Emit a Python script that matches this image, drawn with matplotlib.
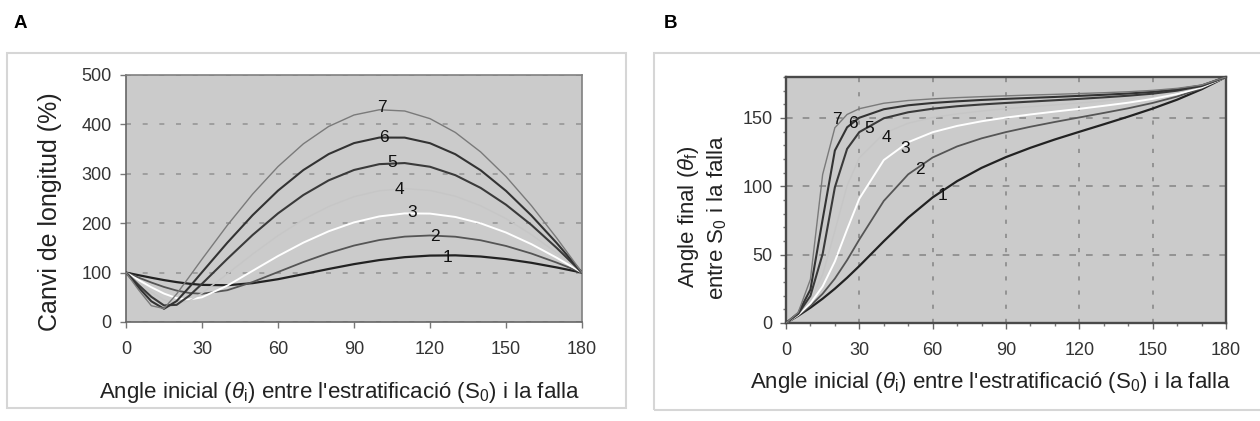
import matplotlib
matplotlib.use("Agg")
import matplotlib.pyplot as plt
from matplotlib.patches import Rectangle
from matplotlib.ticker import MultipleLocator

plt.rcParams['font.family'] = ['Liberation Sans', 'DejaVu Sans']
plt.rcParams['mathtext.fontset'] = 'custom'
plt.rcParams['mathtext.rm'] = 'Liberation Sans'
plt.rcParams['mathtext.it'] = 'Liberation Sans:italic'

# initial angle (degrees) shared by all curves
theta = [0, 5, 10, 15, 20, 25, 30, 40, 50, 60, 70, 80, 90,
         100, 110, 120, 130, 140, 150, 160, 170, 180]

# A: change of length (%) for curves 1..7
len1 = [100, 94.7, 89.6, 84.8, 80.7, 77.4, 75.1, 74.4, 78.6, 86.6, 96.8, 107.3, 117.1,
        125.3, 131.2, 134.4, 134.9, 132.5, 127.3, 119.8, 110.4, 100]
len2 = [100, 89.8, 79.9, 70.9, 63.6, 58.7, 57.1, 64.3, 80.9, 101.1, 121.3, 139.5, 154.7,
        165.9, 172.8, 175.1, 172.6, 165.4, 153.9, 138.6, 120.2, 100]
len3 = [100, 84.8, 70.3, 57.5, 48.3, 45.4, 50.0, 73.6, 103.6, 133.5, 160.6, 183.6, 201.6,
        213.7, 219.8, 219.4, 212.6, 199.7, 181.1, 157.6, 130.0, 100]
len4 = [100, 79.8, 60.6, 44.6, 37.1, 43.0, 58.3, 97.4, 137.5, 174.8, 207.3, 233.8, 253.6,
        265.7, 270.0, 266.3, 254.6, 235.3, 209.2, 177.0, 140.0, 100]
len5 = [100, 74.8, 51.0, 33.5, 34.7, 53.2, 77.3, 127.8, 176.2, 219.8, 257.0, 286.7, 307.7,
        319.5, 321.7, 314.2, 297.2, 271.4, 237.4, 196.5, 150.0, 100]
len6 = [100, 69.8, 41.9, 26.7, 42.4, 70.5, 100.7, 160.5, 216.3, 265.9, 307.5, 339.9, 362.1,
        373.3, 373.2, 361.9, 339.6, 307.1, 265.4, 215.7, 159.9, 100]
len7 = [100, 64.8, 32.9, 27.3, 56.7, 91.7, 127.1, 195.8, 259.0, 314.6, 360.6, 395.8, 419.0,
        429.6, 427.1, 411.6, 383.7, 344.2, 294.4, 235.7, 170.1, 100]

# B: final angle (degrees) for curves 1..7
ang1 = [0, 5.3, 11.2, 17.8, 25.1, 33.1, 41.7, 59.8, 77.1, 91.9, 103.8, 113.5, 121.4,
        128.2, 134.3, 139.9, 145.4, 151.0, 156.9, 163.4, 171.0, 180]
ang2 = [0, 5.6, 12.6, 21.4, 32.5, 46.0, 61.1, 89.3, 108.8, 121.1, 129.2, 135.1, 139.7,
        143.6, 147.1, 150.4, 153.7, 157.1, 161.0, 165.7, 171.7, 180]
ang3 = [0, 5.9, 14.3, 26.8, 45.1, 68.5, 91.0, 119.2, 132.3, 139.6, 144.2, 147.6, 150.3,
        152.6, 154.7, 156.7, 158.9, 161.2, 164.0, 167.5, 172.3, 180]
ang4 = [0, 6.3, 16.7, 35.5, 67.4, 100.5, 120.9, 138.7, 146.2, 150.3, 153.0, 155.1, 156.8,
        158.3, 159.6, 161.0, 162.5, 164.1, 166.2, 168.9, 172.9, 180]
ang5 = [0, 6.7, 19.9, 50.6, 99.3, 127.4, 139.7, 149.8, 154.2, 156.8, 158.6, 159.9, 161.0,
        162.0, 163.0, 164.0, 165.1, 166.3, 167.8, 170.0, 173.4, 180]
ang6 = [0, 7.2, 24.5, 75.9, 126.2, 143.2, 150.2, 156.4, 159.3, 161.0, 162.2, 163.2, 164.0,
        164.7, 165.4, 166.2, 167.0, 167.9, 169.1, 170.9, 173.8, 180]
ang7 = [0, 7.7, 32.0, 108.7, 142.9, 152.6, 156.8, 160.8, 162.8, 164.0, 164.9, 165.6, 166.2,
        166.8, 167.3, 167.9, 168.5, 169.2, 170.2, 171.7, 174.1, 180]

curve_names = ['1', '2', '3', '4', '5', '6', '7']
colors = ['#222222', '#555555', '#ffffff', '#c6c6c6', '#3a3a3a', '#333333', '#7a7a7a']
widths = [1.6, 1.3, 1.4, 1.0, 1.5, 1.5, 1.0]

# label positions (theta, value)
lab_a = [(127, 130), (122, 174), (113, 221), (108, 268), (105, 323), (102, 373), (101, 434)]
lab_b = [(64, 93), (55, 112), (48.7, 128), (41, 136), (34, 142), (27.5, 146), (21, 149)]

bg = '#cbcbcb'

fig = plt.figure(figsize=(12.6, 4.21), dpi=100)

fig.patches.append(Rectangle((7 / 1260, 1 - 408 / 421), 619 / 1260, 355 / 421,
                             transform=fig.transFigure, fill=False,
                             edgecolor='#d6d6d6', lw=1.5))
fig.patches.append(Rectangle((654 / 1260, 1 - 410 / 421), 620 / 1260, 357 / 421,
                             transform=fig.transFigure, fill=False,
                             edgecolor='#d6d6d6', lw=1.5))
fig.text(14 / 1260, 1 - 23 / 421, 'A', fontsize=13.5, fontweight='bold', va='center')
fig.text(664 / 1260, 1 - 23 / 421, 'B', fontsize=13.5, fontweight='bold', va='center')

xlab = "Angle inicial ($\\theta_\\mathrm{i}$) entre l'estratificació (S$_0$) i la falla"

# ---- panel A
axA = fig.add_axes([0.1, 0.2352, 0.3619, 0.5867])
axA.set_facecolor(bg)
series_a = [len1, len2, len3, len4, len5, len6, len7]
for vals, c, w in zip(series_a, colors, widths):
    axA.plot(theta, vals, color=c, lw=w, zorder=3)
for name, (tx, ty) in zip(curve_names, lab_a):
    axA.text(tx, ty, name, fontsize=12.5, ha='center', va='center', color='#111111', zorder=4)
axA.set_xlim(0, 180)
axA.set_ylim(0, 500)
axA.xaxis.set_major_locator(MultipleLocator(30))
axA.yaxis.set_major_locator(MultipleLocator(100))
axA.grid(axis='y', color='#979797', lw=1.2, linestyle=(0, (3, 7)))
axA.set_axisbelow(True)
axA.tick_params(direction='out', length=4.5, width=1, color='#777777', labelsize=13,
                labelcolor='#333333')
axA.tick_params(axis='x', pad=9)
axA.tick_params(axis='y', pad=6)
for s in axA.spines.values():
    s.set_color('#808080')
    s.set_linewidth(1.2)
axA.spines['left'].set_color('#666666')
axA.spines['bottom'].set_color('#666666')
axA.set_ylabel('Canvi de longitud (%)', fontsize=18, color='#222222')
axA.yaxis.set_label_coords(-0.14, 0.445)
axA.set_xlabel(xlab, fontsize=16, color='#222222')
axA.xaxis.set_label_coords(0.467, -0.235)

# ---- panel B
axB = fig.add_axes([0.6238, 0.2328, 0.3492, 0.5843])
axB.set_facecolor(bg)
series_b = [ang1, ang2, ang3, ang4, ang5, ang6, ang7]
for vals, c, w in zip(series_b, colors, widths):
    axB.plot(theta, vals, color=c, lw=w, zorder=3)
for name, (tx, ty) in zip(curve_names, lab_b):
    axB.text(tx, ty, name, fontsize=12.5, ha='center', va='center', color='#111111', zorder=4)
axB.set_xlim(0, 180)
axB.set_ylim(0, 180)
axB.xaxis.set_major_locator(MultipleLocator(30))
axB.xaxis.set_minor_locator(MultipleLocator(10))
axB.yaxis.set_major_locator(MultipleLocator(50))
axB.yaxis.set_minor_locator(MultipleLocator(10))
axB.grid(axis='y', which='major', color='#8a8a8a', lw=1.2, linestyle=(0, (4, 6)))
axB.grid(axis='x', which='major', color='#8a8a8a', lw=1.2, linestyle=(0, (2.5, 6)))
axB.set_axisbelow(True)
axB.tick_params(which='major', direction='out', length=4.5, width=1, color='#666666',
                labelsize=13, labelcolor='#333333')
axB.tick_params(which='minor', direction='out', length=2.5, width=1, color='#777777')
axB.tick_params(axis='x', which='major', pad=9)
axB.tick_params(axis='y', which='major', pad=5)
for s in axB.spines.values():
    s.set_color('#4a4a4a')
    s.set_linewidth(1.7)
axB.set_ylabel('Angle final ($\\theta_\\mathrm{f}$)\nentre S$_0$ i la falla', fontsize=16,
               color='#222222', linespacing=1.25)
axB.yaxis.set_label_coords(-0.13, 0.43)
axB.set_xlabel(xlab, fontsize=16, color='#222222')
axB.xaxis.set_label_coords(0.464, -0.19)

fig.savefig('out.png', dpi=100)
